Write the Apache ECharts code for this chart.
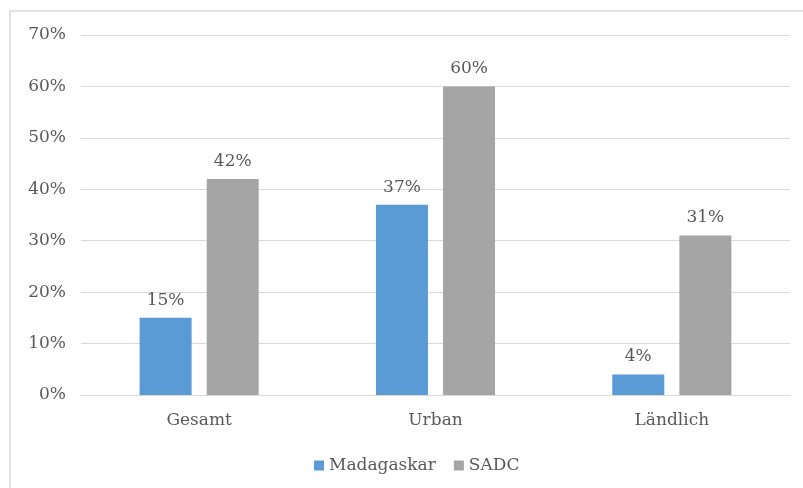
<!DOCTYPE html>
<html>
<head>
<meta charset="utf-8">
<script src="https://cdn.jsdelivr.net/npm/echarts@6/dist/echarts.min.js"></script>
<style>
  html, body { margin: 0; padding: 0; background: #fff; }
  #chart { width: 803px; height: 488px; }
</style>
</head>
<body>
<div id="chart"></div>
<script>
const categories = ["Gesamt", "Urban", "Ländlich"];
const madagaskar = [15, 37, 4];
const sadc = [42, 60, 31];

const font = "DejaVu Serif";
const textColor = "#595959";

const chart = echarts.init(document.getElementById("chart"));

chart.setOption({
  backgroundColor: "#fff",
  animation: false,
  textStyle: { fontFamily: font },
  graphic: [
    {
      type: "rect",
      shape: { x: 10, y: 11, width: 820, height: 500 },
      style: { fill: "none", stroke: "#d9d9d9", lineWidth: 1.5 },
    },
  ],
  grid: { left: 81, right: 13, top: 35, bottom: 93, containLabel: false },
  legend: {
    top: 452,
    left: 309,
    itemWidth: 10,
    itemHeight: 10,
    itemGap: 18,
    icon: "rect",
    textStyle: { color: textColor, fontSize: 17, fontFamily: font },
    data: ["Madagaskar", "SADC"],
  },
  xAxis: {
    type: "category",
    data: categories,
    axisLine: { lineStyle: { color: "#d9d9d9" } },
    axisTick: { show: false },
    axisLabel: { color: textColor, fontSize: 17, margin: 17, fontFamily: font },
  },
  yAxis: {
    type: "value",
    min: 0,
    max: 70,
    interval: 10,
    axisLine: { show: false },
    axisTick: { show: false },
    axisLabel: {
      color: textColor,
      fontSize: 17,
      margin: 15,
      fontFamily: font,
      formatter: (v) => v + "%",
    },
    splitLine: { lineStyle: { color: "#d9d9d9", width: 1 } },
  },
  series: [
    {
      name: "Madagaskar",
      type: "bar",
      data: madagaskar,
      barWidth: 52,
      barGap: "29%",
      itemStyle: { color: "#5b9bd5" },
      label: {
        show: true,
        position: "top",
        distance: 9,
        color: textColor,
        fontSize: 17,
        fontFamily: font,
        formatter: (p) => p.value + "%",
      },
    },
    {
      name: "SADC",
      type: "bar",
      data: sadc,
      barWidth: 52,
      itemStyle: { color: "#a5a5a5" },
      label: {
        show: true,
        position: "top",
        distance: 9,
        color: textColor,
        fontSize: 17,
        fontFamily: font,
        formatter: (p) => p.value + "%",
      },
    },
  ],
});
</script>
</body>
</html>
